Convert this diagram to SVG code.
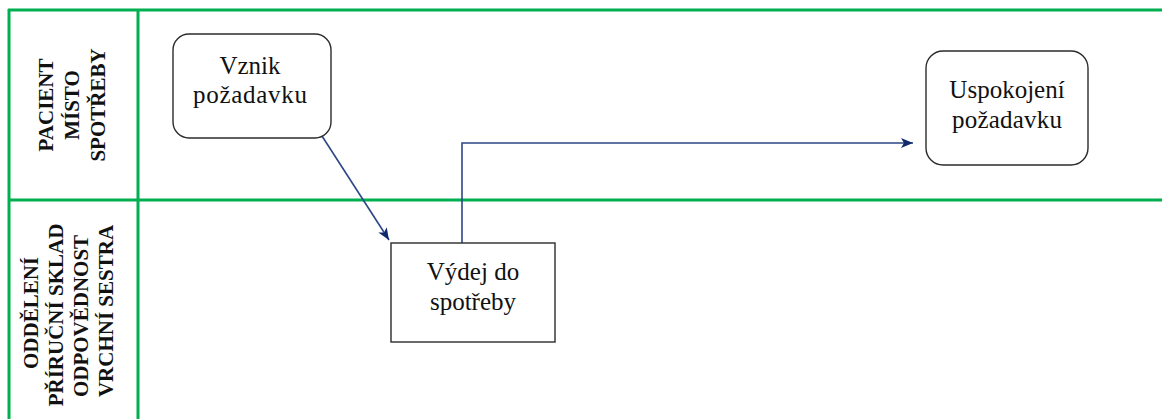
<svg xmlns="http://www.w3.org/2000/svg" width="1162" height="419" viewBox="0 0 1162 419">
<defs>
<style>
.lane{stroke:#00b050;stroke-width:3;fill:none}
.node{fill:#ffffff;stroke:#2b2b2b;stroke-width:1.4}
.t{font-family:'Liberation Serif','Times New Roman',serif;font-size:25px;fill:#111;text-anchor:middle}
.lbl{font-family:'Liberation Serif','Times New Roman',serif;font-size:21px;font-weight:bold;fill:#111;text-anchor:middle}
.conn{stroke:#2c4786;stroke-width:1.6;fill:none}
</style>
<marker id="ah" markerUnits="userSpaceOnUse" markerWidth="14" markerHeight="12" refX="12" refY="6" orient="auto">
<path d="M0,1 L12,6 L0,11 L3,6 Z" fill="#0f2a6b"/>
</marker>
</defs>
<rect width="1162" height="419" fill="#ffffff"/>
<g id="lanes">
<line class="lane" x1="8" y1="10" x2="1162" y2="10"/>
<line class="lane" x1="8" y1="200" x2="1162" y2="200"/>
<line class="lane" x1="9" y1="9" x2="9" y2="419"/>
<line class="lane" x1="138" y1="9" x2="138" y2="419"/>
<g id="lane1-label">
<text class="lbl" transform="translate(53,105) rotate(-90)">PACIENT</text>
<text class="lbl" transform="translate(79,105) rotate(-90)">MÍSTO</text>
<text class="lbl" transform="translate(105,105) rotate(-90)">SPOTŘEBY</text>
</g>
<g id="lane2-label">
<text class="lbl" transform="translate(38,313) rotate(-90)">ODDĚLENÍ</text>
<text class="lbl" transform="translate(63,315) rotate(-90)">PŘÍRUČNÍ SKLAD</text>
<text class="lbl" transform="translate(88,316) rotate(-90)">ODPOVĚDNOST</text>
<text class="lbl" transform="translate(113,311) rotate(-90)">VRCHNÍ SESTRA</text>
</g>
</g>
<g id="connectors">
<line class="conn" x1="322" y1="136" x2="389" y2="240" marker-end="url(#ah)"/>
<polyline class="conn" points="462,243 462,143 913,143" marker-end="url(#ah)"/>
</g>
<g id="node-vznik">
<rect class="node" x="173" y="34" width="158" height="104" rx="16"/>
<text class="t" x="250" y="74">Vznik</text>
<text class="t" x="250" y="103" textLength="114">požadavku</text>
</g>
<g id="node-vydej">
<rect class="node" x="391" y="243" width="164" height="99"/>
<text class="t" x="473" y="280">Výdej do</text>
<text class="t" x="473" y="310">spotřeby</text>
</g>
<g id="node-uspokojeni">
<rect class="node" x="926" y="51" width="162" height="114" rx="17"/>
<text class="t" x="1007" y="98">Uspokojení</text>
<text class="t" x="1007" y="128" textLength="110">požadavku</text>
</g>
</svg>
